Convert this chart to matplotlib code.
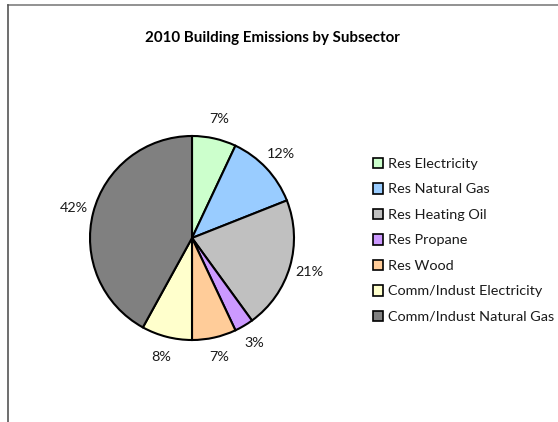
import matplotlib.pyplot as plt
from matplotlib.lines import Line2D
from matplotlib.patches import Patch

plt.rcParams['font.family'] = ['Lato', 'DejaVu Sans']

# 2010 building emissions, share of total by subsector (%)
subsectors = [
    "Res Electricity",
    "Res Natural Gas",
    "Res Heating Oil",
    "Res Propane",
    "Res Wood",
    "Comm/Indust Electricity",
    "Comm/Indust Natural Gas",
]
shares = [7, 12, 21, 3, 7, 8, 42]
colors = ["#CCFFCC", "#99CCFF", "#C0C0C0", "#CC99FF", "#FFCC99", "#FFFFCC", "#808080"]

W, H = 558, 422
fig = plt.figure(figsize=(W / 100, H / 100), dpi=100)

# chart area border (top and left edges)
fig.add_artist(Line2D([8 / W, 1], [1 - 5 / H, 1 - 5 / H], color="#7f7f7f", lw=1.2))
fig.add_artist(Line2D([8 / W, 8 / W], [0, 1 - 5 / H], color="#555555", lw=1.2))

# pie axes: center (192, 238) px, radius 102 px
r, cx, cy = 102, 192, 238
half = 1.25 * r
ax = fig.add_axes([(cx - half) / W, (H - cy - half) / H, 2 * half / W, 2 * half / H])

wedges, texts = ax.pie(
    shares,
    colors=colors,
    startangle=90,
    counterclock=False,
    labels=[f"{v}%" for v in shares],
    labeldistance=1.2,
    wedgeprops=dict(edgecolor="black", linewidth=1.5),
    textprops=dict(fontsize=10.4, color="#1a1a1a"),
)
for t in texts:
    t.set_ha("center")
    t.set_va("center")
ax.set_xlim(-1.25, 1.25)
ax.set_ylim(-1.25, 1.25)

fig.text(272 / W, 1 - 38 / H, "2010 Building Emissions by Subsector",
         ha="center", va="center", fontsize=10.9, fontweight="bold", color="#000000")

handles = [Patch(facecolor=c, edgecolor="black", linewidth=1.2) for c in colors]
fig.legend(handles, subsectors, loc="upper left", bbox_to_anchor=(367 / W, 1 - 152 / H),
           frameon=False, fontsize=10.4, handlelength=0.72, handleheight=0.72,
           handletextpad=0.3, labelspacing=0.92, borderaxespad=0,
           labelcolor="#1a1a1a")

fig.savefig("out.png", dpi=100)
